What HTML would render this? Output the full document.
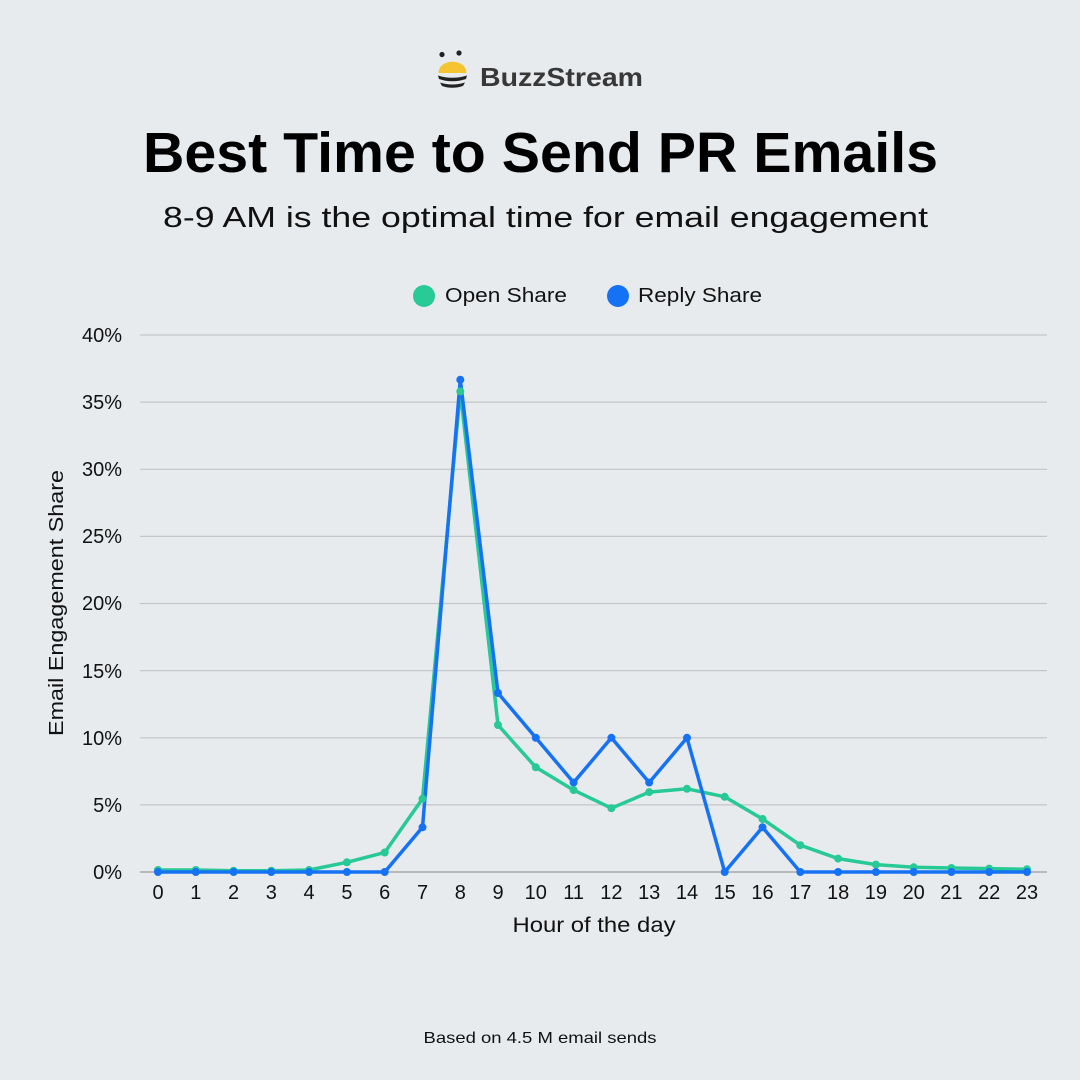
<!DOCTYPE html>
<html>
<head>
<meta charset="utf-8">
<style>
  html, body { margin:0; padding:0; background:#e8ebee; }
  svg { display:block; }
  text { font-family: "Liberation Sans", "DejaVu Sans", sans-serif; fill:#111; }
</style>
</head>
<body>
<svg width="1080" height="1080" viewBox="0 0 1080 1080" xmlns="http://www.w3.org/2000/svg">
  <rect x="0" y="0" width="1080" height="1080" fill="#e8ebee"/>

  <!-- Logo -->
  <circle cx="442" cy="54.5" r="2.6" fill="#222"/>
  <circle cx="459" cy="53" r="2.6" fill="#222"/>
  <path d="M438.5,73 C438.5,58 466.5,58 466.5,73 Z" fill="#f5c431"/>
  <path d="M438,75.5 Q452,80 467,75.5 L466,79 Q452,83.5 439,79 Z" fill="#222"/>
  <path d="M440,82.5 Q452,86.5 465,82.5 L463,86 Q452,89.5 442,86 Z" fill="#222"/>
  <text x="480" y="86" font-size="26" font-weight="bold" fill="#383838" style="fill:#383838" textLength="163" lengthAdjust="spacingAndGlyphs">BuzzStream</text>

  <!-- Title -->
  <text x="143" y="172" font-size="57" font-weight="bold" style="fill:#000" textLength="795" lengthAdjust="spacingAndGlyphs">Best Time to Send PR Emails</text>
  <text x="163" y="227" font-size="29" textLength="765" lengthAdjust="spacingAndGlyphs">8-9 AM is the optimal time for email engagement</text>

  <!-- Legend -->
  <circle cx="424" cy="296" r="11" fill="#27c994"/>
  <text x="445" y="302" font-size="20" textLength="122" lengthAdjust="spacingAndGlyphs">Open Share</text>
  <circle cx="618" cy="296" r="11" fill="#1672f5"/>
  <text x="638" y="302" font-size="20" textLength="124" lengthAdjust="spacingAndGlyphs">Reply Share</text>

  <!-- Gridlines -->
  <g stroke="#c3c6c9" stroke-width="1.2">
    <line x1="140" y1="335" x2="1047" y2="335"/>
    <line x1="140" y1="402.1" x2="1047" y2="402.1"/>
    <line x1="140" y1="469.3" x2="1047" y2="469.3"/>
    <line x1="140" y1="536.4" x2="1047" y2="536.4"/>
    <line x1="140" y1="603.5" x2="1047" y2="603.5"/>
    <line x1="140" y1="670.6" x2="1047" y2="670.6"/>
    <line x1="140" y1="737.8" x2="1047" y2="737.8"/>
    <line x1="140" y1="804.9" x2="1047" y2="804.9"/>
  </g>
  <line x1="140" y1="872" x2="1047" y2="872" stroke="#9c9c9c" stroke-width="1.3"/>

  <!-- Y tick labels -->
  <g font-size="20" text-anchor="end">
    <text x="122" y="342">40%</text>
    <text x="122" y="409">35%</text>
    <text x="122" y="476">30%</text>
    <text x="122" y="543">25%</text>
    <text x="122" y="610">20%</text>
    <text x="122" y="678">15%</text>
    <text x="122" y="745">10%</text>
    <text x="122" y="812">5%</text>
    <text x="122" y="879">0%</text>
  </g>

  <!-- X tick labels -->
  <g font-size="20" text-anchor="middle">
    <text x="158" y="899">0</text>
    <text x="195.8" y="899">1</text>
    <text x="233.6" y="899">2</text>
    <text x="271.3" y="899">3</text>
    <text x="309.1" y="899">4</text>
    <text x="346.9" y="899">5</text>
    <text x="384.7" y="899">6</text>
    <text x="422.5" y="899">7</text>
    <text x="460.3" y="899">8</text>
    <text x="498" y="899">9</text>
    <text x="535.8" y="899">10</text>
    <text x="573.6" y="899">11</text>
    <text x="611.4" y="899">12</text>
    <text x="649.2" y="899">13</text>
    <text x="687" y="899">14</text>
    <text x="724.7" y="899">15</text>
    <text x="762.5" y="899">16</text>
    <text x="800.3" y="899">17</text>
    <text x="838.1" y="899">18</text>
    <text x="875.9" y="899">19</text>
    <text x="913.7" y="899">20</text>
    <text x="951.4" y="899">21</text>
    <text x="989.2" y="899">22</text>
    <text x="1027" y="899">23</text>
  </g>

  <!-- Axis titles -->
  <text x="594" y="932" font-size="21" text-anchor="middle" textLength="163" lengthAdjust="spacingAndGlyphs">Hour of the day</text>
  <text transform="translate(63,603) rotate(-90)" x="0" y="0" font-size="20" text-anchor="middle" textLength="266" lengthAdjust="spacingAndGlyphs">Email Engagement Share</text>

  <!-- Series lines -->
  <polyline fill="none" stroke="#27c994" stroke-width="3.5" stroke-linejoin="round"
    points="158,870 195.8,870 233.6,870.7 271.3,870.7 309.1,870 346.9,862.3 384.7,852.5 422.5,798.8 460.3,391.4 498,725 535.8,767.3 573.6,790.1 611.4,808.2 649.2,792.1 687,788.8 724.7,796.8 762.5,819 800.3,845.2 838.1,858.6 875.9,864.6 913.7,867.3 951.4,868 989.2,868.6 1027,869.3"/>
  <polyline fill="none" stroke="#1672f5" stroke-width="3.5" stroke-linejoin="round"
    points="158,872 195.8,872 233.6,872 271.3,872 309.1,872 346.9,872 384.7,872 422.5,827.3 460.3,379.7 498,693 535.8,737.8 573.6,782.5 611.4,737.8 649.2,782.5 687,737.8 724.7,872 762.5,827.3 800.3,872 838.1,872 875.9,872 913.7,872 951.4,872 989.2,872 1027,872"/>

  <!-- Markers -->
  <g fill="#27c994">
    <circle cx="158" cy="870" r="4"/><circle cx="195.8" cy="870" r="4"/><circle cx="233.6" cy="870.7" r="4"/><circle cx="271.3" cy="870.7" r="4"/>
    <circle cx="309.1" cy="870" r="4"/><circle cx="346.9" cy="862.3" r="4"/><circle cx="384.7" cy="852.5" r="4"/><circle cx="422.5" cy="798.8" r="4"/>
    <circle cx="460.3" cy="391.4" r="4"/><circle cx="498" cy="725" r="4"/><circle cx="535.8" cy="767.3" r="4"/><circle cx="573.6" cy="790.1" r="4"/>
    <circle cx="611.4" cy="808.2" r="4"/><circle cx="649.2" cy="792.1" r="4"/><circle cx="687" cy="788.8" r="4"/><circle cx="724.7" cy="796.8" r="4"/>
    <circle cx="762.5" cy="819" r="4"/><circle cx="800.3" cy="845.2" r="4"/><circle cx="838.1" cy="858.6" r="4"/><circle cx="875.9" cy="864.6" r="4"/>
    <circle cx="913.7" cy="867.3" r="4"/><circle cx="951.4" cy="868" r="4"/><circle cx="989.2" cy="868.6" r="4"/><circle cx="1027" cy="869.3" r="4"/>
  </g>
  <g fill="#1672f5">
    <circle cx="158" cy="872" r="4"/><circle cx="195.8" cy="872" r="4"/><circle cx="233.6" cy="872" r="4"/><circle cx="271.3" cy="872" r="4"/>
    <circle cx="309.1" cy="872" r="4"/><circle cx="346.9" cy="872" r="4"/><circle cx="384.7" cy="872" r="4"/><circle cx="422.5" cy="827.3" r="4"/>
    <circle cx="460.3" cy="379.7" r="4"/><circle cx="498" cy="693" r="4"/><circle cx="535.8" cy="737.8" r="4"/><circle cx="573.6" cy="782.5" r="4"/>
    <circle cx="611.4" cy="737.8" r="4"/><circle cx="649.2" cy="782.5" r="4"/><circle cx="687" cy="737.8" r="4"/><circle cx="724.7" cy="872" r="4"/>
    <circle cx="762.5" cy="827.3" r="4"/><circle cx="800.3" cy="872" r="4"/><circle cx="838.1" cy="872" r="4"/><circle cx="875.9" cy="872" r="4"/>
    <circle cx="913.7" cy="872" r="4"/><circle cx="951.4" cy="872" r="4"/><circle cx="989.2" cy="872" r="4"/><circle cx="1027" cy="872" r="4"/>
  </g>

  <!-- Footer -->
  <text x="540" y="1043" font-size="16" text-anchor="middle" textLength="233" lengthAdjust="spacingAndGlyphs">Based on 4.5 M email sends</text>
</svg>
</body>
</html>
